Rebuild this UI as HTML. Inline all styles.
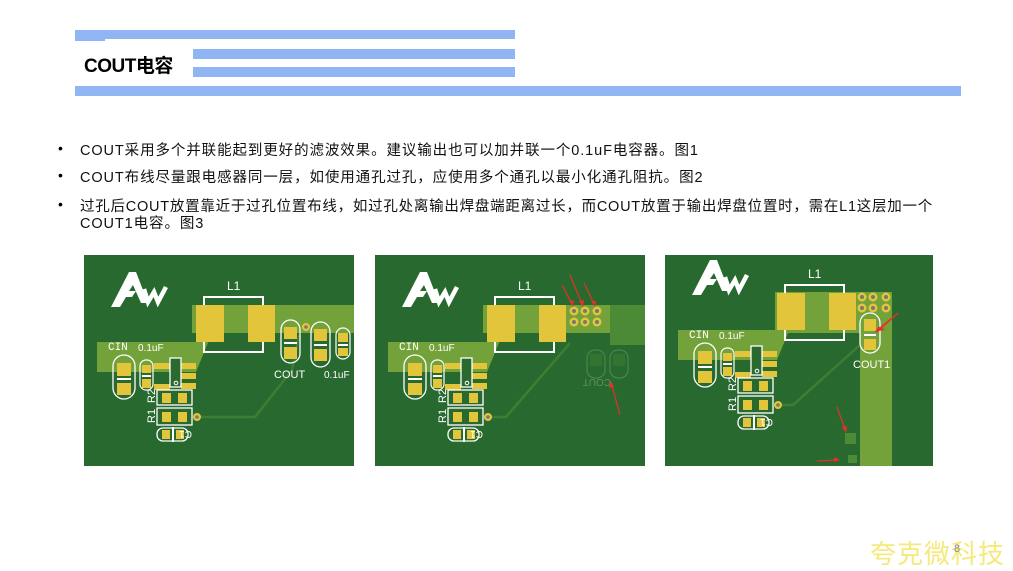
<!DOCTYPE html>
<html><head><meta charset="utf-8"><style>
body{margin:0;width:1013px;height:566px;background:#fff;position:relative;overflow:hidden;font-family:"Liberation Sans","Noto Sans CJK SC",sans-serif;}
.bar{position:absolute;background:#8fb5f2;}
.t{position:absolute;font-size:14.5px;color:#111;white-space:nowrap;letter-spacing:0.9px;}
.b{position:absolute;left:58px;font-size:14px;}
</style></head><body>
<div class="bar" style="left:75px;top:30px;width:440px;height:9px"></div>
<div class="bar" style="left:75px;top:36px;width:30px;height:5px"></div>
<div class="bar" style="left:193px;top:49px;width:322px;height:10px"></div>
<div class="bar" style="left:193px;top:67px;width:322px;height:10px"></div>
<div class="bar" style="left:75px;top:86px;width:886px;height:10px"></div>
<div style="position:absolute;left:84px;top:51px;font-size:19px;font-weight:bold;color:#000;letter-spacing:-0.5px">COUT电容</div>

<div class="b" style="top:140px">•</div>
<div class="t" style="left:80px;top:139px">COUT采用多个并联能起到更好的滤波效果。建议输出也可以加并联一个0.1uF电容器。图1</div>
<div class="b" style="top:167px">•</div>
<div class="t" style="left:80px;top:166px">COUT布线尽量跟电感器同一层，如使用通孔过孔，应使用多个通孔以最小化通孔阻抗。图2</div>
<div class="b" style="top:196px">•</div>
<div class="t" style="left:80px;top:195px;letter-spacing:0.75px">过孔后COUT放置靠近于过孔位置布线，如过孔处离输出焊盘端距离过长，而COUT放置于输出焊盘位置时，需在L1这层加一个</div>
<div class="t" style="left:80px;top:212px">COUT1电容。图3</div>

<svg style="position:absolute;left:0;top:0" width="1013" height="566">
<defs>
<g id="common">
 <polygon points="13,87 112,87 112,80 128,60 128,78 112,117 13,117" fill="#73a23a"/>
 <polygon points="27,52 45,17 52,17 64,48 57,48 49,30 45,36 52,36 48,42 42,42 36,52" fill="#fff"/>
 <polyline points="60,34 64,47 70,37 74,47 82,32" fill="none" stroke="#fff" stroke-width="4.5"/>
 <text x="143" y="35" fill="#fff" font-size="12" font-family="Liberation Sans">L1</text>
 <rect x="120" y="42" width="59" height="55" fill="none" stroke="#fff" stroke-width="2"/>
 <rect x="112" y="50" width="28" height="37" fill="#e2c53b"/>
 <rect x="164" y="50" width="27" height="37" fill="#e2c53b"/>
 <text x="24" y="95" fill="#fff" font-size="11" font-family="Liberation Mono">CIN</text>
 <text x="54" y="96" fill="#fff" font-size="10" font-family="Liberation Sans">0.1uF</text>
 <rect x="29" y="100" width="22" height="44" rx="11" fill="none" stroke="#fff" stroke-width="1.3"/>
 <rect x="33" y="108" width="14" height="13" fill="#e2c53b"/>
 <rect x="33" y="123" width="14" height="2" fill="#fff"/>
 <rect x="33" y="128" width="14" height="12" fill="#e2c53b"/>
 <rect x="56" y="105" width="13" height="30" rx="6" fill="none" stroke="#fff" stroke-width="1.2"/>
 <rect x="58" y="110" width="9" height="8" fill="#e2c53b"/>
 <rect x="58" y="120" width="9" height="2" fill="#fff"/>
 <rect x="58" y="124" width="9" height="9" fill="#e2c53b"/>
 <rect x="70" y="108" width="16" height="6" fill="#e2c53b"/>
 <rect x="70" y="129" width="16" height="6" fill="#e2c53b"/>
 <rect x="97" y="108" width="15" height="6" fill="#e2c53b"/>
 <rect x="97" y="118" width="15" height="6" fill="#e2c53b"/>
 <rect x="97" y="128" width="15" height="6" fill="#e2c53b"/>
 <rect x="86" y="103" width="11" height="29" fill="#2a6a2f" stroke="#fff" stroke-width="1.3"/>
 <circle cx="92" cy="128" r="1.8" fill="none" stroke="#fff"/>
 <rect x="73" y="135" width="35" height="15" fill="none" stroke="#fff" stroke-width="1.3"/>
 <rect x="78" y="138" width="9" height="10" fill="#e2c53b"/>
 <rect x="94" y="138" width="9" height="10" fill="#e2c53b"/>
 <rect x="73" y="153" width="35" height="17" fill="none" stroke="#fff" stroke-width="1.3"/>
 <rect x="78" y="157" width="9" height="10" fill="#e2c53b"/>
 <rect x="94" y="157" width="9" height="10" fill="#e2c53b"/>
 <rect x="73" y="173" width="31" height="13" rx="6" fill="none" stroke="#fff" stroke-width="1.3"/>
 <rect x="78" y="175" width="8" height="9" fill="#e2c53b"/>
 <rect x="92" y="175" width="8" height="9" fill="#e2c53b"/>
 <rect x="88" y="172" width="2" height="15" fill="#fff"/>
 <text transform="translate(71,148) rotate(-90)" fill="#fff" font-size="11" font-family="Liberation Sans">R2</text>
 <text transform="translate(71,168) rotate(-90)" fill="#fff" font-size="11" font-family="Liberation Sans">R1</text>
 <text transform="translate(108,176) scale(-1,-1)" fill="#fff" font-size="10" font-family="Liberation Sans">C1</text>
 <circle cx="113" cy="162" r="4" fill="#e2c53b"/><circle cx="113" cy="162" r="1.8" fill="#777"/>
</g>
</defs>

<!-- Board 1 -->
<g transform="translate(84,255)">
 <rect x="0" y="0" width="270" height="211" fill="#28692f"/>
 <rect x="108" y="50" width="162" height="28" fill="#73a23a"/>
 <polyline points="113,162 171,162 208,115 215,80" fill="none" stroke="#3f7d33" stroke-width="2.5"/>
 <use href="#common"/>
 <rect x="197" y="65" width="19" height="43" rx="9.5" fill="none" stroke="#fff" stroke-width="1.3"/>
 <rect x="200" y="72" width="13" height="12" fill="#e2c53b"/><rect x="200" y="87" width="13" height="2" fill="#fff"/><rect x="200" y="92" width="13" height="12" fill="#e2c53b"/>
 <rect x="227" y="67" width="19" height="45" rx="9.5" fill="none" stroke="#fff" stroke-width="1.3"/>
 <rect x="230" y="74" width="13" height="12" fill="#e2c53b"/><rect x="230" y="89" width="13" height="2" fill="#fff"/><rect x="230" y="94" width="13" height="12" fill="#e2c53b"/>
 <rect x="252" y="73" width="14" height="31" rx="7" fill="none" stroke="#fff" stroke-width="1.2"/>
 <rect x="254" y="78" width="10" height="9" fill="#e2c53b"/><rect x="254" y="89" width="10" height="2" fill="#fff"/><rect x="254" y="93" width="10" height="8" fill="#e2c53b"/>
 <circle cx="222" cy="72" r="4" fill="#e2c53b"/><circle cx="222" cy="72" r="1.8" fill="#777"/>
 <text x="190" y="123" fill="#fff" font-size="11" font-family="Liberation Sans">COUT</text>
 <text x="240" y="123" fill="#fff" font-size="10" font-family="Liberation Sans">0.1uF</text>
</g>

<!-- Board 2 -->
<g transform="translate(375,255)">
 <rect x="0" y="0" width="270" height="211" fill="#28692f"/>
 <rect x="108" y="50" width="127" height="28" fill="#73a23a"/>
 <rect x="235" y="50" width="35" height="40" fill="#4c8a36"/>
 <polyline points="113,162 131,162 195,88" fill="none" stroke="#3f7d33" stroke-width="2.5"/>
 <use href="#common"/>
 <g opacity="0.35">
  <rect x="212" y="95" width="18" height="28" rx="8" fill="none" stroke="#9c9"/>
  <rect x="215" y="99" width="12" height="12" fill="#4c8a36"/>
  <rect x="235" y="95" width="18" height="28" rx="8" fill="none" stroke="#9c9"/>
  <rect x="238" y="99" width="12" height="12" fill="#4c8a36"/>
  <text x="200" y="132" fill="#ccc" font-size="10" transform="rotate(180 218 128)">COUT</text>
 </g>
 <g fill="#e2c53b"><circle cx="199" cy="56" r="4.5"/><circle cx="210" cy="56" r="4.5"/><circle cx="222" cy="56" r="4.5"/><circle cx="199" cy="67" r="4.5"/><circle cx="210" cy="67" r="4.5"/><circle cx="222" cy="67" r="4.5"/></g>
 <g fill="#777"><circle cx="199" cy="56" r="2"/><circle cx="210" cy="56" r="2"/><circle cx="222" cy="56" r="2"/><circle cx="199" cy="67" r="2"/><circle cx="210" cy="67" r="2"/><circle cx="222" cy="67" r="2"/></g>
 <g stroke="#e8302a" stroke-width="1.2"><line x1="187" y1="30" x2="198" y2="51"/><line x1="195" y1="20" x2="208" y2="51"/><line x1="209" y1="28" x2="220" y2="51"/><line x1="245" y1="160" x2="236" y2="127"/></g>
 <g fill="#e8302a"><polygon points="198,52 194,46 199,45"/><polygon points="208,52 204,46 209,45"/><polygon points="220,52 216,46 221,46"/><polygon points="236,126 234,133 239,132"/></g>
</g>

<!-- Board 3 -->
<g transform="translate(665,255)">
 <rect x="0" y="0" width="268" height="211" fill="#28692f"/>
 <rect x="110" y="37" width="117" height="41" fill="#73a23a"/>
 <rect x="195" y="37" width="32" height="174" fill="#73a23a"/>
 <polyline points="113,150 128,150 195,90" fill="none" stroke="#3f7d33" stroke-width="2.5"/>
 <g transform="translate(0,-12)"><use href="#common"/></g>
 <g fill="#e2c53b"><circle cx="197" cy="42" r="4.5"/><circle cx="208" cy="42" r="4.5"/><circle cx="221" cy="42" r="4.5"/><circle cx="197" cy="53" r="4.5"/><circle cx="208" cy="53" r="4.5"/><circle cx="221" cy="53" r="4.5"/></g>
 <g fill="#777"><circle cx="197" cy="42" r="2"/><circle cx="208" cy="42" r="2"/><circle cx="221" cy="42" r="2"/><circle cx="197" cy="53" r="2"/><circle cx="208" cy="53" r="2"/><circle cx="221" cy="53" r="2"/></g>
 <rect x="195" y="58" width="20" height="40" rx="10" fill="none" stroke="#fff" stroke-width="1.3"/>
 <rect x="199" y="64" width="12" height="12" fill="#e2c53b"/><rect x="199" y="79" width="12" height="2" fill="#fff"/><rect x="199" y="84" width="12" height="11" fill="#e2c53b"/>
 <text x="188" y="113" fill="#fff" font-size="11" font-family="Liberation Sans">COUT1</text>
 <rect x="180" y="178" width="11" height="11" fill="#4c8a36"/>
 <rect x="183" y="200" width="9" height="8" fill="#4c8a36"/>
 <g stroke="#e8302a" stroke-width="1.2"><line x1="233" y1="58" x2="212" y2="77"/><line x1="172" y1="152" x2="181" y2="177"/><line x1="152" y1="206" x2="174" y2="205"/></g>
 <g fill="#e8302a"><polygon points="213,76 216,72 220,75"/><polygon points="181,178 177,172 182,171"/><polygon points="175,205 169,202 169,207"/></g>
</g>
<line x1="898" y1="313" x2="875" y2="332" stroke="#e8302a" stroke-width="1.2"/>
<polygon points="875,332 882,330 879,326" fill="#e8302a"/>
</svg>

<div style="position:absolute;left:870px;top:534px;font-size:26px;color:#f5e97a;font-family:'Noto Sans CJK SC',sans-serif;letter-spacing:1px">夸克微科技</div>
<div style="position:absolute;left:954px;top:543px;font-size:11px;color:#888">8</div>
</body></html>
